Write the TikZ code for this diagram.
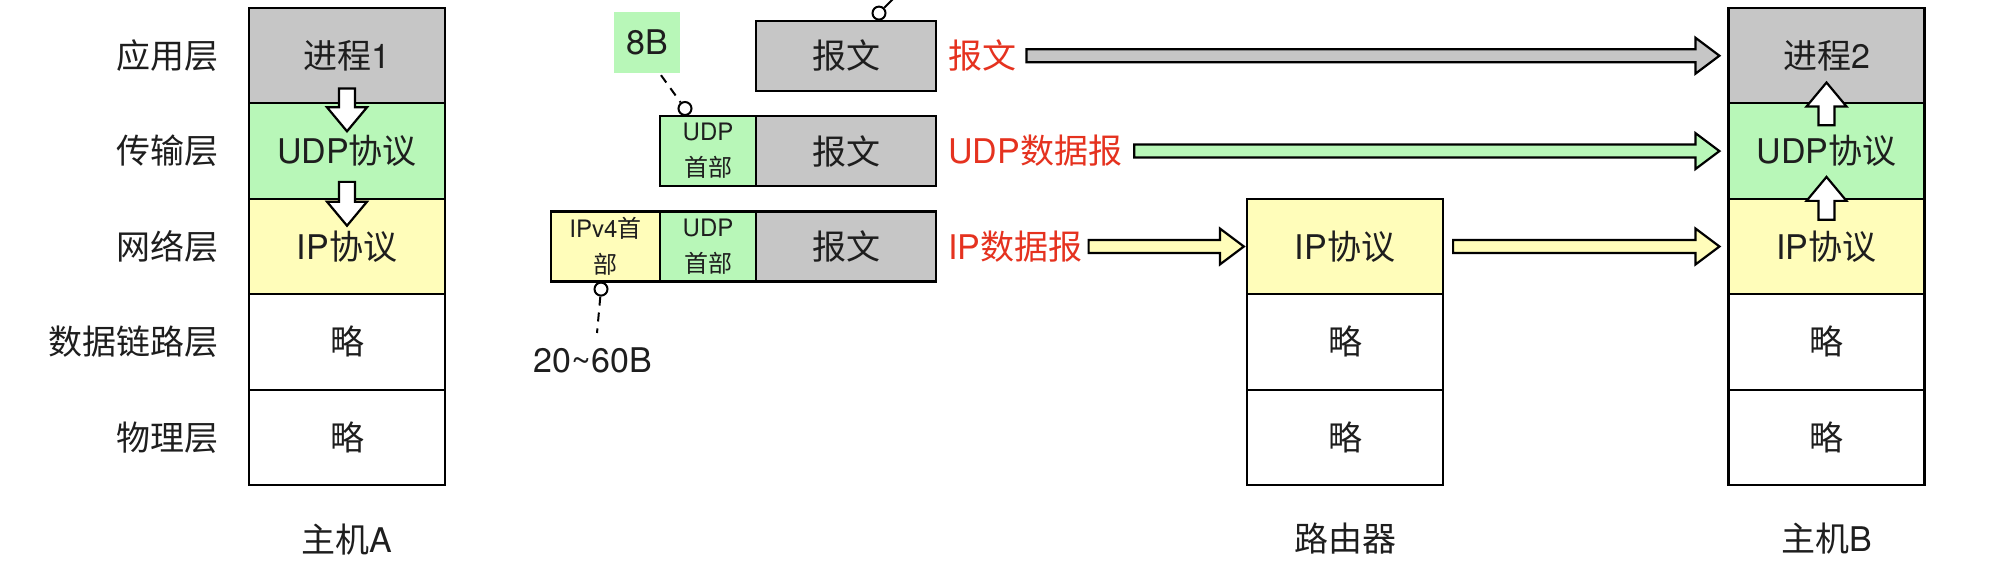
\documentclass[tikz,border=0pt]{standalone}
\usepackage{fontspec}
\setmainfont{TeX Gyre Heros}
\newfontfamily\cjk{Noto Sans CJK SC}
\usetikzlibrary{calc}
\definecolor{cgray}{HTML}{C6C6C6}
\definecolor{cgreen}{HTML}{B8F7B8}
\definecolor{cyellow}{HTML}{FFFDBA}
\definecolor{cred}{HTML}{E5321F}
\definecolor{ctext}{HTML}{1E1E1E}
\newcommand\zh[1]{{\cjk #1}}
\newcommand\fbig{\fontsize{34}{40}\selectfont}
\newcommand\fsml{\fontsize{24}{36}\selectfont}
% block arrow: #1 start, #2 tip, #3 fill, #4 shaft half width, #5 head half width
\newcommand\blockarrow[5]{%
  \draw[line width=2.2pt, fill=#3, line join=miter]
    let \p1=#1, \p2=#2, \p3=($(\p2)!24pt!(\p1)$) in
    ($(\p1)!#4!90:(\p2)$) -- ($(\p3)!#4!-90:(\p1)$) -- ($(\p3)!#5!-90:(\p1)$) --
    (\p2) -- ($(\p3)!#5!90:(\p1)$) -- ($(\p3)!#4!90:(\p1)$) --
    ($(\p1)!#4!-90:(\p2)$) -- cycle;}
\begin{document}
\begin{tikzpicture}[x=1pt,y=-1pt,
  layer/.style={draw=black, line width=2.2pt, minimum width=196pt, minimum height=95.4pt,
    inner sep=0pt, font=\fbig, text=ctext},
  pkt/.style={draw=black, line width=2.2pt, minimum height=70pt, inner sep=0pt,
    font=\fbig, text=ctext, fill=cgray},
  hdr/.style={pkt, font=\fsml, align=center},
  lbl/.style={font=\fbig, text=ctext, inner sep=0pt},
  redlbl/.style={font=\fbig, text=cred, inner sep=0pt, anchor=west},
  circ/.style={circle, draw=black, fill=white, line width=2pt, minimum size=13pt, inner sep=0pt},
  callout/.style={draw=black, line width=2pt, dash pattern=on 9pt off 7pt}]
\useasboundingbox (0,0) rectangle (2008,569);

% host A
\node[layer, fill=cgray]   (a1) at (347,55.7)  {\zh{进程}1};
\node[layer, fill=cgreen]  (a2) at (347,151.1) {UDP\zh{协议}};
\node[layer, fill=cyellow] (a3) at (347,246.5) {IP\zh{协议}};
\node[layer, fill=white]   (a4) at (347,341.9) {\zh{略}};
\node[layer, fill=white]   (a5) at (347,437.3) {\zh{略}};
\node[lbl] (nA) at ($(a5.south)+(0,53)$) {\zh{主机}A};

% layer names
\node[lbl, anchor=east] (l1) at ($(a1.west)+(-29,0)$) {\zh{应用层}};
\node[lbl, anchor=east] (l2) at ($(a2.west)+(-29,0)$) {\zh{传输层}};
\node[lbl, anchor=east] (l3) at ($(a3.west)+(-29,0)$) {\zh{网络层}};
\node[lbl, anchor=east] (l4) at ($(a4.west)+(-29,0)$) {\zh{数据链路层}};
\node[lbl, anchor=east] (l5) at ($(a5.west)+(-29,0)$) {\zh{物理层}};

% router
\node[layer, fill=cyellow] (ro1) at (1345,246.5) {IP\zh{协议}};
\node[layer, fill=white]   (ro2) at (1345,341.9) {\zh{略}};
\node[layer, fill=white]   (ro3) at (1345,437.3) {\zh{略}};
\node[lbl] (nR) at ($(ro3.south)+(0,52)$) {\zh{路由器}};

% host B
\node[layer, fill=cgray]   (b1) at (1826.5,55.7)  {\zh{进程}2};
\node[layer, fill=cgreen]  (b2) at (1826.5,151.1) {UDP\zh{协议}};
\node[layer, fill=cyellow] (b3) at (1826.5,246.5) {IP\zh{协议}};
\node[layer, fill=white]   (b4) at (1826.5,341.9) {\zh{略}};
\node[layer, fill=white]   (b5) at (1826.5,437.3) {\zh{略}};
\node[lbl] (nB) at ($(b5.south)+(0,52)$) {\zh{主机}B};

% packets
\node[pkt, minimum width=180pt] (m1) at (846,55.7) {\zh{报文}};
\node[pkt, minimum width=180pt] (m2) at (846,151.1) {\zh{报文}};
\node[hdr, fill=cgreen, minimum width=96pt] (u2) at (708,151.1) {UDP\\\zh{首部}};
\node[pkt, minimum width=180pt] (m3) at (846,246.5) {\zh{报文}};
\node[hdr, fill=cgreen, minimum width=96pt] (u3) at (708,246.5) {UDP\\\zh{首部}};
\node[hdr, fill=cyellow, minimum width=109pt] (ip3) at (605.5,246.5) {IPv4\zh{首}\\\zh{部}};

% red labels
\node[redlbl] (t1) at ($(m1.east)+(11,0)$) {\zh{报文}};
\node[redlbl] (t2) at ($(m2.east)+(11,0)$) {UDP\zh{数据报}};
\node[redlbl] (t3) at ($(m3.east)+(11,0)$) {IP\zh{数据报}};

% callouts
\node[fill=cgreen, minimum width=66pt, minimum height=61pt, inner sep=0pt, font=\fbig, text=ctext] (k8) at (647,42.5) {8B};
\node[circ] (c1) at ($(m1.north)+(33,-6.5)$) {};
\coordinate (c1end) at (897,-5);
\draw[line width=2pt] (c1) -- (c1end);
\node[circ] (c2) at ($(u2.north)+(-23,-6.5)$) {};
\draw[callout] ($(k8.south)+(14,2)$) -- (c2);
\node[circ] (c3) at ($(ip3.south)+(-4.5,6.5)$) {};
\node[lbl] (k20) at (593,360) {20\textasciitilde60B};
\coordinate (d3) at (597,333);
\draw[callout] (c3) -- (d3);

% horizontal arrows
\blockarrow{($(t1.east)+(10,0)$)}{($(b1.west)+(-8,0)$)}{cgray}{6.5pt}{18pt}
\blockarrow{($(t2.east)+(12,0)$)}{($(b2.west)+(-8,0)$)}{cgreen}{6.5pt}{18pt}
\blockarrow{($(t3.east)+(6,0)$)}{($(ro1.west)+(-2,0)$)}{cyellow}{6.5pt}{18pt}
\blockarrow{($(ro1.east)+(9,0)$)}{($(b3.west)+(-8,0)$)}{cyellow}{6.5pt}{18pt}

% vertical arrows
\blockarrow{($(a1.south)+(0,-16)$)}{($(a2.north)+(0,29)$)}{white}{8pt}{20pt}
\blockarrow{($(a2.south)+(0,-18)$)}{($(a3.north)+(0,28)$)}{white}{8pt}{20pt}
\blockarrow{($(b2.north)+(0,23)$)}{($(b1.south)+(0,-22)$)}{white}{8pt}{20pt}
\blockarrow{($(b3.north)+(0,22)$)}{($(b2.south)+(0,-23)$)}{white}{8pt}{20pt}
\end{tikzpicture}
\end{document}
